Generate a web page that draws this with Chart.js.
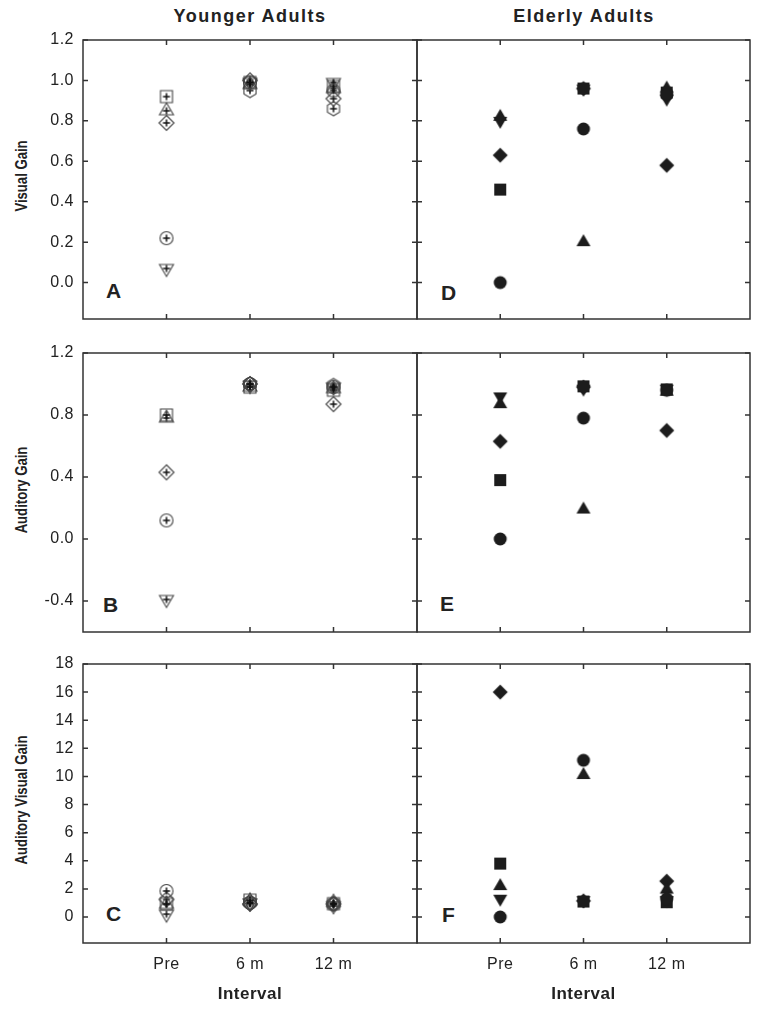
<!DOCTYPE html>
<html>
<head>
<meta charset="utf-8">
<script src="https://cdn.jsdelivr.net/npm/chart.js@4.4.1/dist/chart.umd.min.js"></script>
<style>
  html, body { margin: 0; padding: 0; background: #fff; }
  #wrap { position: relative; width: 762px; height: 1014px; overflow: hidden;
          font-family: "Liberation Sans", Arial, sans-serif; color: #222; }
  canvas { position: absolute; }
  .colTitle { position: absolute; top: 6px; width: 300px; line-height: 20px; text-align: center;
              font-weight: bold; font-size: 18px; letter-spacing: 1.5px; }
  .yTitle { position: absolute; left: 22px; width: 260px; line-height: 20px; text-align: center;
            font-weight: bold; font-size: 16px; white-space: nowrap;
            transform: translate(-50%, -50%) rotate(-90deg) scaleX(0.82); }
  .letter { position: absolute; font-weight: bold; font-size: 21px; line-height: 1; }
</style>
</head>
<body>
<div id="wrap">
  <div class="colTitle" style="left:100px">Younger Adults</div>
  <div class="colTitle" style="left:434px">Elderly Adults</div>
  <div class="yTitle" style="top:176px">Visual Gain</div>
  <div class="yTitle" style="top:490px">Auditory Gain</div>
  <div class="yTitle" style="top:800px">Auditory Visual Gain</div>
  <div class="letter" style="left:106px;top:280px">A</div>
  <div class="letter" style="left:103px;top:594px">B</div>
  <div class="letter" style="left:106px;top:903px">C</div>
  <div class="letter" style="left:441px;top:282px">D</div>
  <div class="letter" style="left:440px;top:593px">E</div>
  <div class="letter" style="left:442px;top:904px">F</div>
</div>
<script>
// --- data ---
const intervals = ['Pre', '6 m', '12 m'];
const youngShapes = ['circle', 'triDown', 'square', 'triUp', 'diamond', 'hexagon'];
const elderShapes = ['circle', 'square', 'triUp', 'triDown', 'diamond'];

// one row per subject (same order as the shapes), columns = Pre, 6 m, 12 m
const youngVisual = [
  [0.22, 0.99, 0.95],
  [0.07, 0.99, 0.99],
  [0.92, 0.99, 0.97],
  [0.85, 0.98, 0.96],
  [0.79, 1.00, 0.91],
  [null, 0.95, 0.86]
];
const youngAuditory = [
  [0.12, 1.00, 0.98],
  [-0.39, 0.99, 0.98],
  [0.80, 0.98, 0.96],
  [0.78, 0.98, 0.97],
  [0.43, 1.00, 0.87],
  [null, 1.00, 0.99]
];
const youngAV = [
  [1.85, 1.00, 0.90],
  [0.20, 1.00, 0.80],
  [0.95, 1.20, 0.95],
  [0.90, 1.15, 1.05],
  [1.25, 0.93, 0.93],
  [null, 1.05, 0.95]
];
const elderVisual = [
  [0.00, 0.76, 0.93],
  [0.46, 0.96, 0.94],
  [0.82, 0.20, 0.96],
  [0.80, 0.96, 0.91],
  [0.63, 0.96, 0.58]
];
const elderAuditory = [
  [0.00, 0.78, 0.96],
  [0.38, 0.985, 0.965],
  [0.87, 0.19, 0.95],
  [0.92, 0.97, 0.97],
  [0.63, 0.98, 0.70]
];
const elderAV = [
  [0.00, 11.15, 1.30],
  [3.80, 1.10, 1.05],
  [2.20, 10.10, 1.95],
  [1.30, 1.20, 1.20],
  [16.0, 1.15, 2.55]
];

const visualTicks = [0, 0.2, 0.4, 0.6, 0.8, 1.0, 1.2];
const auditoryTicks = [-0.4, 0, 0.4, 0.8, 1.2];
const avTicks = [0, 2, 4, 6, 8, 10, 12, 14, 16, 18];

// --- markers ---
function makeMarker(shape, filled) {
  const c = document.createElement('canvas');
  c.width = 20; c.height = 20;
  const g = c.getContext('2d');
  g.translate(10, 10);
  g.beginPath();
  if (shape === 'circle') g.arc(0, 0, 6.5, 0, Math.PI * 2);
  if (shape === 'square') g.rect(-6, -6, 12, 12);
  if (shape === 'triUp') { g.moveTo(0, -8); g.lineTo(7, 4); g.lineTo(-7, 4); g.closePath(); }
  if (shape === 'triDown') { g.moveTo(0, 8); g.lineTo(7, -4); g.lineTo(-7, -4); g.closePath(); }
  if (shape === 'diamond') { g.moveTo(0, -7.5); g.lineTo(7.5, 0); g.lineTo(0, 7.5); g.lineTo(-7.5, 0); g.closePath(); }
  if (shape === 'hexagon') {
    for (let k = 0; k < 6; k++) {
      const a = Math.PI / 2 + k * Math.PI / 3;
      k ? g.lineTo(7 * Math.cos(a), 7 * Math.sin(a)) : g.moveTo(7 * Math.cos(a), 7 * Math.sin(a));
    }
    g.closePath();
  }
  if (filled) {
    g.fillStyle = '#1c1c1c';
    g.fill();
  } else {
    g.strokeStyle = '#444';
    g.lineWidth = 1.1;
    g.stroke();
    g.beginPath();
    g.moveTo(-3.5, 0); g.lineTo(3.5, 0);
    g.moveTo(0, -3.5); g.lineTo(0, 3.5);
    g.strokeStyle = '#111';
    g.lineWidth = 1.5;
    g.stroke();
  }
  return c;
}

// --- frame with inward ticks; y tick labels get wider letter spacing ---
const framePlugin = {
  id: 'frame',
  afterUpdate(chart) {
    const y = chart.scales.y;
    if (!y._spaced) {
      const orig = y.draw.bind(y);
      y.draw = area => {
        chart.ctx.letterSpacing = '2px';
        orig(area);
        chart.ctx.letterSpacing = '0.5px';
      };
      y._spaced = true;
    }
  },
  beforeDraw(chart) { chart.ctx.letterSpacing = '0.5px'; },
  beforeDatasetsDraw(chart) {
    const { ctx, chartArea: a, scales: { x, y } } = chart;
    ctx.save();
    ctx.strokeStyle = '#333';
    ctx.lineWidth = 1.5;
    ctx.strokeRect(a.left, a.top, a.right - a.left, a.bottom - a.top);
    ctx.beginPath();
    intervals.forEach((_, j) => {
      const px = x.getPixelForValue(j + 1);
      ctx.moveTo(px, a.top); ctx.lineTo(px, a.top + 5);
      ctx.moveTo(px, a.bottom); ctx.lineTo(px, a.bottom - 5);
    });
    y.ticks.forEach(t => {
      const py = y.getPixelForValue(t.value);
      ctx.moveTo(a.left, py); ctx.lineTo(a.left + 5, py);
      ctx.moveTo(a.right, py); ctx.lineTo(a.right - 5, py);
    });
    ctx.stroke();
    ctx.restore();
  }
};

const panels = [
  { data: youngVisual, shapes: youngShapes, filled: false, ticks: visualTicks, min: -0.18, max: 1.2, col: 0, row: 0, dec: 1 },
  { data: youngAuditory, shapes: youngShapes, filled: false, ticks: auditoryTicks, min: -0.6, max: 1.2, col: 0, row: 1, dec: 1 },
  { data: youngAV, shapes: youngShapes, filled: false, ticks: avTicks, min: -1.85, max: 18, col: 0, row: 2, dec: 0 },
  { data: elderVisual, shapes: elderShapes, filled: true, ticks: visualTicks, min: -0.18, max: 1.2, col: 1, row: 0, dec: 1 },
  { data: elderAuditory, shapes: elderShapes, filled: true, ticks: auditoryTicks, min: -0.6, max: 1.2, col: 1, row: 1, dec: 1 },
  { data: elderAV, shapes: elderShapes, filled: true, ticks: avTicks, min: -1.85, max: 18, col: 1, row: 2, dec: 0 }
];
const PAD = 24;
const rowTop = [40 - PAD, 353 - PAD, 664 - PAD];
const font = 'Liberation Sans, Arial, sans-serif';

function makeChart(p) {
  const left = p.col === 0;
  const bottom = p.row === 2;
  const canvas = document.createElement('canvas');
  const w = left ? 421 : 341;
  const h = bottom ? PAD + 279 + 62 : PAD + 279 + PAD;
  canvas.width = w; canvas.height = h;
  canvas.style.left = (left ? 0 : 413) + 'px';
  canvas.style.top = rowTop[p.row] + 'px';
  document.getElementById('wrap').appendChild(canvas);

  const datasets = p.data.map((vals, i) => ({
    data: vals.map((v, j) => (v === null ? null : { x: j + 1, y: v })).filter(Boolean),
    pointStyle: makeMarker(p.shapes[i], p.filled),
    pointRadius: 6,
    showLine: false
  }));

  new Chart(canvas, {
    type: 'scatter',
    data: { datasets },
    options: {
      responsive: false,
      devicePixelRatio: 1,
      animation: false,
      layout: { autoPadding: false, padding: { left: left ? 0 : 4, right: 4, top: PAD, bottom: bottom ? 0 : PAD } },
      plugins: { legend: { display: false }, tooltip: { enabled: false } },
      scales: {
        x: {
          type: 'linear', min: 0, max: 4, display: bottom,
          afterBuildTicks: s => { s.ticks = [1, 2, 3].map(v => ({ value: v })); },
          afterFit: s => { if (bottom) s.height = 62; },
          grid: { display: false, drawTicks: false },
          border: { display: false },
          ticks: { callback: v => intervals[v - 1], color: '#222', padding: 12, font: { family: font, size: 16 } },
          title: { display: true, text: 'Interval', color: '#222', padding: 0, font: { family: font, size: 17, weight: 'bold' } }
        },
        y: {
          type: 'linear', min: p.min, max: p.max, display: left,
          afterBuildTicks: s => { s.ticks = p.ticks.map(v => ({ value: v })); },
          afterFit: s => { if (left) s.width = 83; },
          grid: { display: false, drawTicks: false },
          border: { display: false },
          ticks: { callback: v => v.toFixed(p.dec), color: '#222', padding: 9, font: { family: font, size: 16 } }
        }
      }
    },
    plugins: [framePlugin]
  });
}

panels.forEach(makeChart);
</script>
</body>
</html>
